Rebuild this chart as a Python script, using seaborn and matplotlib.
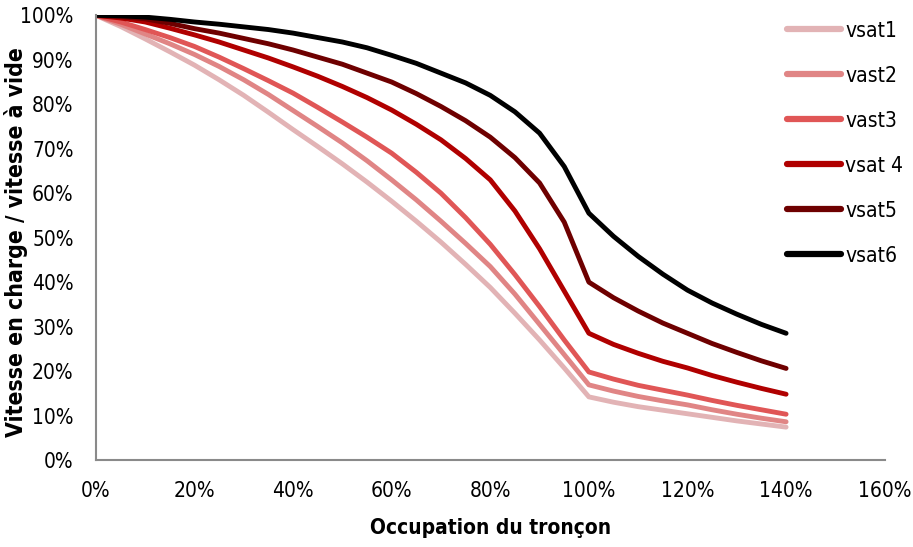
import matplotlib
matplotlib.use("Agg")
import matplotlib.pyplot as plt
import seaborn as sns
import pandas as pd
from matplotlib import font_manager
from matplotlib.ticker import PercentFormatter, MultipleLocator

occupation = [0, 5, 10, 15, 20, 25, 30, 35, 40, 45, 50, 55, 60, 65, 70, 75, 80, 85, 90, 95, 100,
              105, 110, 115, 120, 125, 130, 135, 140]
vsat1 = [100, 97.5, 94.7, 91.8, 88.8, 85.5, 82, 78.2, 74.3, 70.5, 66.6, 62.5, 58.2, 53.7, 49, 44, 38.8, 33, 27, 20.7, 14.2,
         13, 12, 11.2, 10.4, 9.6, 8.8, 8.1, 7.4]
vast2 = [100, 98, 95.8, 93.6, 91.2, 88.5, 85.5, 82.2, 78.6, 75, 71.3, 67.3, 63, 58.5, 53.7, 48.7, 43.5, 37.3, 30.5, 23.7, 16.9,
         15.5, 14.3, 13.3, 12.4, 11.3, 10.3, 9.4, 8.6]
vast3 = [100, 98.5, 96.8, 95, 93, 90.6, 88, 85.3, 82.5, 79.3, 76, 72.6, 69, 64.7, 60, 54.5, 48.5, 41.7, 34.5, 27, 19.8,
         18.2, 16.8, 15.7, 14.6, 13.4, 12.3, 11.3, 10.3]
vsat4 = [100, 99.4, 98.5, 97.1, 95.6, 94, 92.2, 90.4, 88.4, 86.3, 84, 81.5, 78.7, 75.5, 72, 67.8, 63, 56, 47.5, 38, 28.5,
         26, 24, 22.2, 20.7, 19, 17.5, 16.1, 14.8]
vsat5 = [100, 99.7, 99.2, 98.2, 97, 96, 94.8, 93.6, 92.2, 90.6, 89, 87, 85, 82.4, 79.5, 76.3, 72.6, 68, 62.3, 53.5, 40,
         36.5, 33.5, 30.8, 28.5, 26.2, 24.2, 22.3, 20.6]
vsat6 = [100, 99.9, 99.6, 99.1, 98.5, 98, 97.4, 96.8, 96, 95, 94, 92.7, 91, 89.2, 87, 84.8, 82, 78.3, 73.5, 66, 55.5,
         50.3, 45.8, 41.8, 38.2, 35.3, 32.8, 30.5, 28.5]

series_names = ["vsat1", "vast2", "vast3", "vsat 4", "vsat5", "vsat6"]
series_values = [vsat1, vast2, vast3, vsat4, vsat5, vsat6]
colors = ["#E2B3B5", "#E08585", "#E05656", "#B00000", "#6E0000", "#000000"]

rows = []
for name, vals in zip(series_names, series_values):
    for x, y in zip(occupation, vals):
        rows.append({"occ": x, "v": y, "serie": name})
df = pd.DataFrame(rows)

sns.set_style("white")
plt.rcParams["text.color"] = "black"
plt.rcParams["axes.labelcolor"] = "black"

# pick a narrow font if one is installed
narrow_file = None
narrow_bold_file = None
for f in font_manager.fontManager.ttflist:
    fn = f.fname.lower()
    if ("narrow" in fn or "condensed" in fn) and ("sans" in fn or "roboto" in fn or "arial" in fn):
        if ("italic" in fn) or ("oblique" in fn):
            continue
        if "bold" in fn and narrow_bold_file is None:
            narrow_bold_file = f.fname
        elif "bold" not in fn and narrow_file is None:
            narrow_file = f.fname
if narrow_file:
    fp_reg = font_manager.FontProperties(fname=narrow_file, size=15)
else:
    fp_reg = font_manager.FontProperties(family="Liberation Sans", size=13.5)
if narrow_bold_file:
    fp_bold = font_manager.FontProperties(fname=narrow_bold_file, size=15)
    fp_bold_y = font_manager.FontProperties(fname=narrow_bold_file, size=16.5)
else:
    fp_bold = font_manager.FontProperties(family="Liberation Sans", weight="bold", size=13.5)
    fp_bold_y = font_manager.FontProperties(family="Liberation Sans", weight="bold", size=14.5)
plt.rcParams["font.family"] = ["Liberation Sans", "DejaVu Sans"]

fig = plt.figure(figsize=(9.13, 5.47), dpi=100)
ax = fig.add_axes([0.105, 0.159, 0.864, 0.813])

sns.lineplot(data=df, x="occ", y="v", hue="serie", hue_order=series_names,
             palette=colors, linewidth=3.5, ax=ax, sort=False, estimator=None)
for line in ax.get_lines():
    line.set_solid_capstyle("round")
    line.set_solid_joinstyle("round")

ax.set_xlim(0, 160)
ax.set_ylim(0, 100)
ax.xaxis.set_major_locator(MultipleLocator(20))
ax.yaxis.set_major_locator(MultipleLocator(10))
ax.xaxis.set_major_formatter(PercentFormatter(decimals=0))
ax.yaxis.set_major_formatter(PercentFormatter(decimals=0))

gray = "#8A8A8A"
for s in ["top", "right"]:
    ax.spines[s].set_visible(False)
for s in ["left", "bottom"]:
    ax.spines[s].set_color(gray)
    ax.spines[s].set_linewidth(1.5)
ax.tick_params(axis="both", which="major", direction="out", length=6, width=1.5,
               color=gray, labelcolor="black")
ax.tick_params(axis="y", pad=10)
ax.tick_params(axis="x", pad=9)
for lab in ax.get_xticklabels() + ax.get_yticklabels():
    lab.set_fontproperties(fp_reg)
ax.grid(False)

ax.set_xlabel("Occupation du tronçon", fontproperties=fp_bold, labelpad=12, color="black")
ax.set_ylabel("Vitesse en charge / vitesse à vide", fontproperties=fp_bold_y, labelpad=2, color="black")
ax.yaxis.set_label_coords(-0.086, 0.49)

leg = ax.legend(loc="upper left", bbox_to_anchor=(0.862, 0.962), bbox_transform=fig.transFigure,
                frameon=False, prop=fp_reg, handlelength=2.6, handletextpad=0.2,
                labelspacing=1.2, borderpad=0, borderaxespad=0)
for t in leg.get_texts():
    t.set_color("black")
for h in leg.get_lines():
    h.set_linewidth(4.5)
    h.set_solid_capstyle("round")

fig.savefig("out.png", dpi=100)
